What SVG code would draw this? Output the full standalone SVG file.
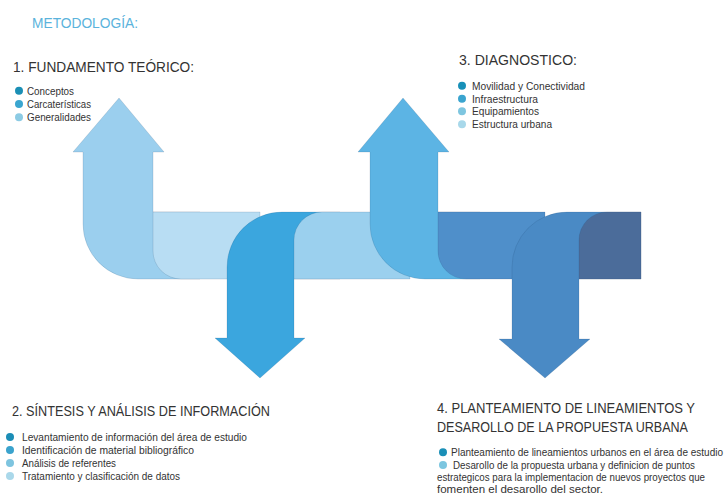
<svg xmlns="http://www.w3.org/2000/svg" width="726" height="496" viewBox="0 0 726 496">
<style>
text{font-family:"Liberation Sans",Arial,sans-serif;fill:#333333}
.h{font-size:15.5px}
.h4{font-size:14px}
.b{font-size:10px}
.rib{stroke:#1d3f66;stroke-opacity:0.18;stroke-width:0.8}
</style>
<rect width="726" height="496" fill="#ffffff"/>
<text x="32" y="28" style="font-size:14px;fill:#5bb3dc" textLength="106" lengthAdjust="spacingAndGlyphs">METODOLOGÍA:</text>

<g id="ribbon">
  <g id="arrow1"><path class="rib" fill="#9bcfee" d="M119,98 L164,152 L153,152 L153,212 L200,212 L200,279 L138,279 A55,55 0 0 1 83,224 L83,152 L73,152 Z"/></g>
  <g id="bandA"><path class="rib" fill="#b8ddf3" d="M153,212 L260,212 L260,279 L181,279 A28,28 0 0 1 153,251 Z"/></g>
  <g id="arrow2"><path class="rib" fill="#3ba6de" d="M260,378 L215,338 L227,338 L227,267 A55,55 0 0 1 282,212 L340,212 L340,279 L294,279 L294,338 L305,338 Z"/></g>
  <g id="bandB"><path class="rib" fill="#9bd0ee" d="M294,279 L294,240 A28,28 0 0 1 322,212 L410,212 L410,279 Z"/></g>
  <g id="arrow3"><path class="rib" fill="#5cb4e4" d="M403,98 L449,152 L438,152 L438,212 L480,212 L480,279 L425,279 A55,55 0 0 1 370,224 L370,152 L358,152 Z"/></g>
  <g id="bandC"><path class="rib" fill="#4f8fca" d="M438,212 L545,212 L545,279 L466,279 A28,28 0 0 1 438,251 Z"/></g>
  <g id="arrow4"><path class="rib" fill="#4a8ac5" d="M545,378 L499,339 L512,339 L512,267 A55,55 0 0 1 567,212 L641,212 L641,279 L579,279 L579,339 L590,339 Z"/></g>
  <g id="bandD"><path class="rib" fill="#4b6c9a" d="M579,279 L579,240 A28,28 0 0 1 607,212 L641,212 L641,279 Z"/></g>
</g>

<g id="connectors"></g>

<g id="step1">
  <text class="h" x="13" y="72" textLength="181" lengthAdjust="spacingAndGlyphs">1.  FUNDAMENTO TEÓRICO:</text>
  <circle cx="19" cy="90.7" r="4" fill="#1b8fb5"/>
  <circle cx="19" cy="104" r="4" fill="#3aa6d0"/>
  <circle cx="19" cy="117.3" r="4" fill="#8ccbe4"/>
  <text class="b" x="27" y="94.5" textLength="47" lengthAdjust="spacingAndGlyphs">Conceptos</text>
  <text class="b" x="27" y="107.8" textLength="64" lengthAdjust="spacingAndGlyphs">Carcaterísticas</text>
  <text class="b" x="27" y="121" textLength="64" lengthAdjust="spacingAndGlyphs">Generalidades</text>
</g>

<g id="step3">
  <text class="h" x="459" y="65" textLength="118" lengthAdjust="spacingAndGlyphs">3.  DIAGNOSTICO:</text>
  <circle cx="462" cy="85.7" r="4" fill="#1890b8"/>
  <circle cx="462" cy="98.7" r="4" fill="#3aa4cf"/>
  <circle cx="462" cy="111.3" r="4" fill="#7ec6e0"/>
  <circle cx="462" cy="124.3" r="4" fill="#a8d8ea"/>
  <text class="b" x="472" y="89.5" textLength="113" lengthAdjust="spacingAndGlyphs">Movilidad y Conectividad</text>
  <text class="b" x="472" y="102.5" textLength="66" lengthAdjust="spacingAndGlyphs">Infraestructura</text>
  <text class="b" x="472" y="115" textLength="67" lengthAdjust="spacingAndGlyphs">Equipamientos</text>
  <text class="b" x="472" y="128" textLength="80" lengthAdjust="spacingAndGlyphs">Estructura urbana</text>
</g>

<g id="step2">
  <text class="h" x="12" y="416" textLength="258" lengthAdjust="spacingAndGlyphs">2.  SÍNTESIS Y ANÁLISIS DE INFORMACIÓN</text>
  <circle cx="10" cy="437" r="4" fill="#1b8db6"/>
  <circle cx="10" cy="450" r="4" fill="#3aa3cd"/>
  <circle cx="10" cy="463" r="4" fill="#7ec4df"/>
  <circle cx="10" cy="476" r="4" fill="#aad8ea"/>
  <text class="b" x="22" y="440.5" textLength="225" lengthAdjust="spacingAndGlyphs">Levantamiento de información del área de estudio</text>
  <text class="b" x="22" y="453.5" textLength="172" lengthAdjust="spacingAndGlyphs">Identificación de material bibliográfico</text>
  <text class="b" x="22" y="466.5" textLength="94" lengthAdjust="spacingAndGlyphs">Análisis de referentes</text>
  <text class="b" x="22" y="479.5" textLength="158" lengthAdjust="spacingAndGlyphs">Tratamiento y clasificación de datos</text>
</g>

<g id="step4">
  <text class="h4" x="437" y="413" textLength="258" lengthAdjust="spacingAndGlyphs">4.  PLANTEAMIENTO DE LINEAMIENTOS Y</text>
  <text class="h4" x="437" y="432" textLength="251" lengthAdjust="spacingAndGlyphs">DESAROLLO DE LA PROPUESTA URBANA</text>
  <circle cx="443" cy="452.3" r="4" fill="#1a8fb7"/>
  <circle cx="443" cy="465" r="4" fill="#7cc6e0"/>
  <text class="b" x="451" y="456" textLength="272" lengthAdjust="spacingAndGlyphs">Planteamiento de lineamientos urbanos en el área de estudio</text>
  <text class="b" x="453" y="469" textLength="242" lengthAdjust="spacingAndGlyphs">Desarollo de la propuesta urbana y definicion de puntos</text>
  <text class="b" x="437" y="481" textLength="268" lengthAdjust="spacingAndGlyphs">estrategicos para la implementacion de nuevos proyectos que</text>
  <text class="b" x="437" y="493" textLength="166" lengthAdjust="spacingAndGlyphs">fomenten el desarollo del sector.</text>
</g>
</svg>
